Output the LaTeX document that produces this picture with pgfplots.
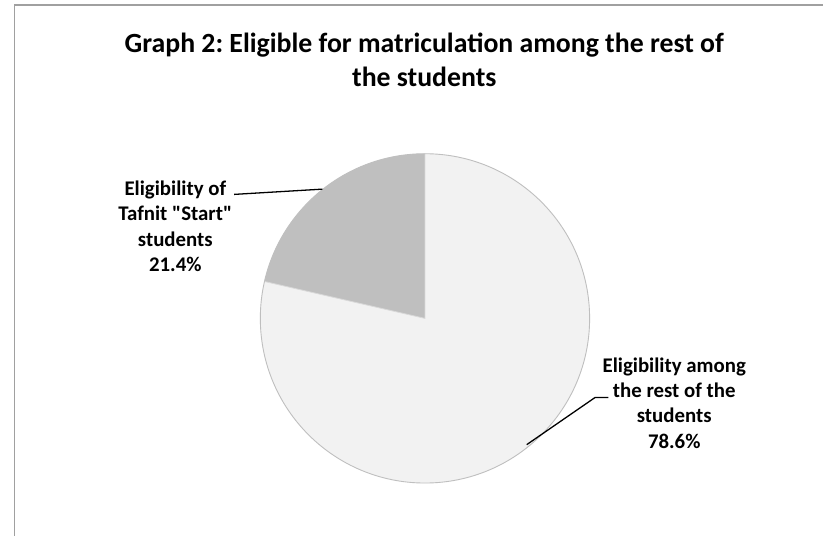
\documentclass[border=0pt]{standalone}
\usepackage{pgfplots}
\pgfplotsset{compat=1.18}
\usepackage{pgfplotstable}
\usepackage{fontspec}
\setmainfont{Carlito}
\frenchspacing
\definecolor{darkslice}{HTML}{BFBFBF}
\definecolor{lightslice}{HTML}{F2F2F2}
\definecolor{frame}{HTML}{A0A0A0}
\pgfplotstableread{
label value
Start 21.4
Rest 78.6
}\piedata
\begin{document}
\pgfplotstablegetelem{0}{value}\of\piedata
\pgfmathsetmacro\angA{90+3.6*\pgfplotsretval}
\pgfmathsetmacro\cx{cos(\angA)}
\pgfmathsetmacro\cy{sin(\angA)}
\begin{tikzpicture}[x=1bp,y=1bp]
\path[use as bounding box,fill=white] (0,0) rectangle (823,540);
\draw[frame,line width=1.6bp] (8,0) -- (8,535) -- (823,535);
\begin{axis}[hide axis, scale only axis, width=332bp, height=332bp,
  xmin=-1, xmax=1, ymin=-1, ymax=1, at={(421.7bp,219bp)}, anchor=center,
  clip=false]
\fill[lightslice] (axis cs:0,0) circle[radius=166bp];
\fill[darkslice] (axis cs:0,0) -- (axis cs:0,1) arc[start angle=90, end angle=\angA, radius=166bp] -- cycle;
\draw[white!85!black, line width=0.8bp] (axis cs:0,1) -- (axis cs:0,0) -- (axis cs:\cx,\cy);
\draw[black!25, line width=0.9bp] (axis cs:0,0) circle[radius=166bp];
\end{axis}
\node[font=\bfseries\fontsize{28bp}{34bp}\selectfont, anchor=base] at (421,487) {Graph 2: Eligible for matriculation among the rest of};
\node[font=\bfseries\fontsize{28bp}{34bp}\selectfont, anchor=base] at (421,453) {the students};
\node[font=\bfseries\fontsize{21bp}{25.6bp}\selectfont, align=center, anchor=base] at (170,266) {Eligibility of\\Tafnit \textquotedbl Start\textquotedbl\\students\\21.4\%};
\node[font=\bfseries\fontsize{21bp}{25.6bp}\selectfont, align=center, anchor=base] at (673,88) {Eligibility among\\the rest of the\\students\\78.6\%};
\draw[black, line width=1.3bp] (229.3,344) -- (318.3,349.3);
\draw[black, line width=1.3bp] (524.3,91.7) -- (593.3,139.3) -- (606.7,139.3);
\end{tikzpicture}
\end{document}
